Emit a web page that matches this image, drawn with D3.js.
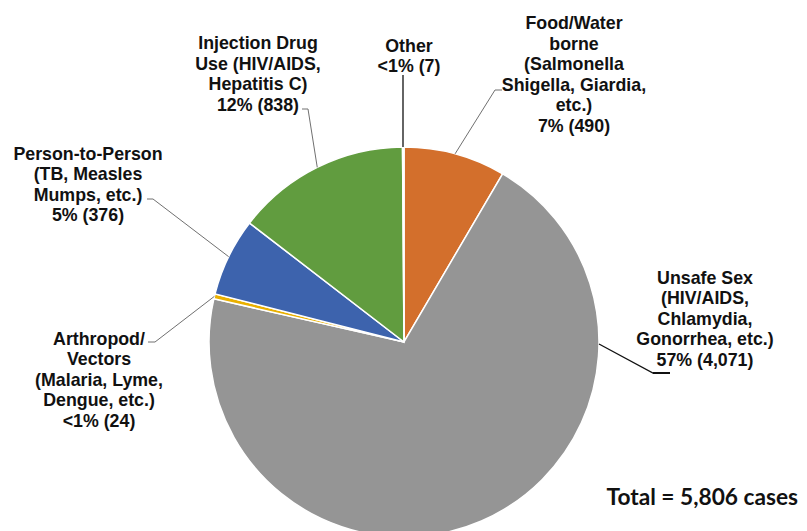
<!DOCTYPE html>
<html>
<head>
<meta charset="utf-8">
<script src="https://cdn.jsdelivr.net/npm/d3@7"></script>
<style>
  body { margin: 0; background: #fff; }
  svg { display: block; }
  .lbl { font-family: Arial, "Liberation Sans", Helvetica, sans-serif; font-weight: 700; font-size: 17.8px; fill: #111; }
  .total { font-family: Lato, "Open Sans", sans-serif; font-weight: 700; font-size: 22.7px; fill: #111; }
</style>
</head>
<body>
<div id="chart"></div>
<script>
// data (clockwise from 12 o'clock)
const categories = ["Food/Water borne", "Unsafe Sex", "Arthropod/Vectors", "Person-to-Person", "Injection Drug Use", "Other"];
const cases = [490, 4071, 24, 376, 838, 7];
const labelLines = [
    ["Food/Water", "borne", "(Salmonella", "Shigella, Giardia,", "etc.)", "7% (490)"],
    ["Unsafe Sex", "(HIV/AIDS,", "Chlamydia,", "Gonorrhea, etc.)", "57% (4,071)"],
    ["Arthropod/", "Vectors", "(Malaria, Lyme,", "Dengue, etc.)", "<1% (24)"],
    ["Person-to-Person", "(TB, Measles", "Mumps, etc.)", "5% (376)"],
    ["Injection Drug", "Use (HIV/AIDS,", "Hepatitis C)", "12% (838)"],
    ["Other", "<1% (7)"]
];
const colors = ["#d36f2c", "#959595", "#e9b000", "#3d63ad", "#619c3f", "#a9bcd8"];
const totalText = "Total = 5,806 cases";

const width = 807, height = 531;
const cx = 404, cy = 342, radius = 195;
const lineH = 20.5;

// label layout: centre x, first baseline, leader (text end -> elbow), pie angle override
const layout = [
    { x: 574, y: 29, from: [502, 90], elbow: [495, 90] },
    { x: 705, y: 283.5, from: [670, 373], elbow: [653, 373], angle: Math.PI / 2 + 0.01, dark: true },
    { x: 99, y: 344.5, from: [148, 342], elbow: [155, 342] },
    { x: 88, y: 159.5, from: [147, 199], elbow: [153, 199] },
    { x: 258, y: 49, from: [302, 109], elbow: [308, 109] },
    { x: 409, y: 51.5, from: null, elbow: [403, 75], dark: true }
];

const svg = d3.select("#chart").append("svg")
    .attr("width", width)
    .attr("height", height);

const data = categories.map((c, i) => ({ name: c, value: cases[i], i: i }));

const pie = d3.pie().sort(null).value(d => d.value);
const arc = d3.arc().innerRadius(0).outerRadius(radius);
const arcs = pie(data);

const g = svg.append("g").attr("transform", "translate(" + cx + "," + cy + ")");

g.selectAll("path.slice")
    .data(arcs)
    .enter().append("path")
    .attr("class", "slice")
    .attr("d", arc)
    .attr("fill", d => colors[d.data.i])
    .attr("stroke", "#fff")
    .attr("stroke-width", 1.5);

// leader lines
arcs.forEach((a, i) => {
    const L = layout[i];
    const ang = L.angle !== undefined ? L.angle : (a.startAngle + a.endAngle) / 2;
    const px = cx + Math.sin(ang) * radius;
    const py = cy - Math.cos(ang) * radius;
    const pts = [];
    if (L.from) pts.push(L.from);
    pts.push(L.elbow);
    pts.push([L.angle === undefined && !L.from ? L.elbow[0] : px, py]);
    svg.append("path")
        .attr("d", d3.line()(pts))
        .attr("fill", "none")
        .attr("stroke", L.dark ? "#111" : "#707070")
        .attr("stroke-width", L.dark ? 1.3 : 1);
    if (i === 1) {
        svg.append("path")
            .attr("d", d3.line()([L.from, L.elbow]))
            .attr("stroke", "#111")
            .attr("stroke-width", 2);
    }
});

// labels
labelLines.forEach((lines, i) => {
    const L = layout[i];
    const t = svg.append("text")
        .attr("class", "lbl")
        .attr("text-anchor", "middle");
    lines.forEach((s, k) => {
        t.append("tspan")
            .attr("x", L.x)
            .attr("y", L.y + k * lineH)
            .text(s);
    });
});

svg.append("text")
    .attr("class", "total")
    .attr("x", 798)
    .attr("y", 505)
    .attr("text-anchor", "end")
    .text(totalText);
</script>
</body>
</html>
